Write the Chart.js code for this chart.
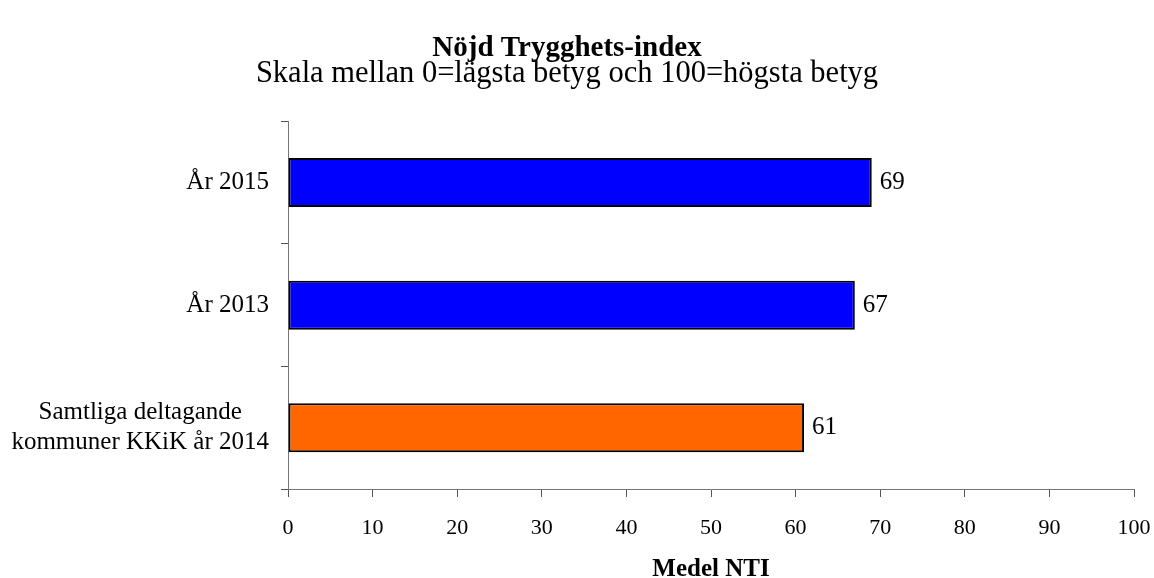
<!DOCTYPE html>
<html>
<head>
<meta charset="utf-8">
<script src="https://cdn.jsdelivr.net/npm/chart.js@4/dist/chart.umd.min.js"></script>
<style>
  html, body { margin: 0; padding: 0; background: #fff; }
  #wrap { width: 1154px; height: 578px; }
</style>
</head>
<body>
<div id="wrap"><canvas id="chart" width="1154" height="578"></canvas></div>
<script>
const categories = ['År 2015', 'År 2013', ['Samtliga deltagande', 'kommuner KKiK år 2014']]
const values = [69, 67, 61]
const barColors = ['#0000ff', '#0000ff', '#ff6600']
const xTicks = [0, 10, 20, 30, 40, 50, 60, 70, 80, 90, 100]

const serif = "'Liberation Serif', 'Times New Roman', serif"

// value labels to the right of each bar
const valueLabels = {
  id: 'valueLabels',
  afterDatasetsDraw(chart) {
    const ctx = chart.ctx
    const meta = chart.getDatasetMeta(0)
    ctx.save()
    ctx.font = '25px ' + serif
    ctx.fillStyle = '#000'
    ctx.textAlign = 'left'
    ctx.textBaseline = 'middle'
    meta.data.forEach((bar, i) => {
      ctx.fillText(values[i], bar.x + 8, bar.y)
    })
    ctx.restore()
  }
}

// category labels: block right-aligned to the axis, lines centred inside the block
const categoryLabels = {
  id: 'categoryLabels',
  afterDraw(chart) {
    const ctx = chart.ctx
    const y = chart.scales.y
    const right = y.right - 7 - 12
    const lineH = 30
    ctx.save()
    ctx.font = '25px ' + serif
    ctx.fillStyle = '#000'
    ctx.textAlign = 'center'
    ctx.textBaseline = 'middle'
    categories.forEach((label, i) => {
      const lines = Array.isArray(label) ? label : [label]
      const w = Math.max(...lines.map(l => ctx.measureText(l).width))
      const cy = y.getPixelForTick(i)
      lines.forEach((line, j) => {
        ctx.fillText(line, right - w / 2, cy + (j - (lines.length - 1) / 2) * lineH)
      })
    })
    ctx.restore()
  }
}

new Chart(document.getElementById('chart'), {
  type: 'bar',
  data: {
    labels: categories,
    datasets: [{
      data: values,
      backgroundColor: barColors,
      borderColor: '#000',
      borderWidth: 2,
      borderSkipped: false,
      barPercentage: 0.4,
      categoryPercentage: 1
    }]
  },
  options: {
    indexAxis: 'y',
    responsive: false,
    animation: false,
    layout: {
      padding: { left: 0, right: 20, top: 0, bottom: 0 }
    },
    plugins: {
      legend: { display: false },
      tooltip: { enabled: false },
      title: {
        display: true,
        text: 'Nöjd Trygghets-index',
        color: '#000',
        font: { family: serif, size: 29, weight: 'bold', lineHeight: 0.9 },
        padding: { top: 35, bottom: 0 }
      },
      subtitle: {
        display: true,
        text: 'Skala mellan 0=lägsta betyg och 100=högsta betyg',
        color: '#000',
        font: { family: serif, size: 30.5, lineHeight: 0.8 },
        padding: { top: 0.5, bottom: 35.3 }
      }
    },
    scales: {
      x: {
        min: 0,
        max: 100,
        afterBuildTicks(scale) {
          scale.ticks = xTicks.map(v => ({ value: v }))
        },
        afterFit(scale) {
          scale.height = 89
          scale.paddingLeft = 0
          scale.paddingRight = 0
        },
        grid: {
          drawOnChartArea: false,
          drawTicks: true,
          tickLength: 8,
          color: '#555'
        },
        border: { color: '#777', width: 1 },
        ticks: {
          color: '#000',
          padding: 18,
          font: { family: serif, size: 22 }
        },
        title: {
          display: true,
          text: 'Medel NTI',
          color: '#000',
          font: { family: serif, size: 25, weight: 'bold' },
          padding: { top: 0, bottom: -7 }
        }
      },
      y: {
        afterFit(scale) {
          scale.width = 288
        },
        grid: {
          offset: true,
          drawOnChartArea: false,
          drawTicks: true,
          tickLength: 7,
          color: '#555'
        },
        border: { color: '#777', width: 1 },
        ticks: { display: false }
      }
    }
  },
  plugins: [valueLabels, categoryLabels]
})
</script>
</body>
</html>
